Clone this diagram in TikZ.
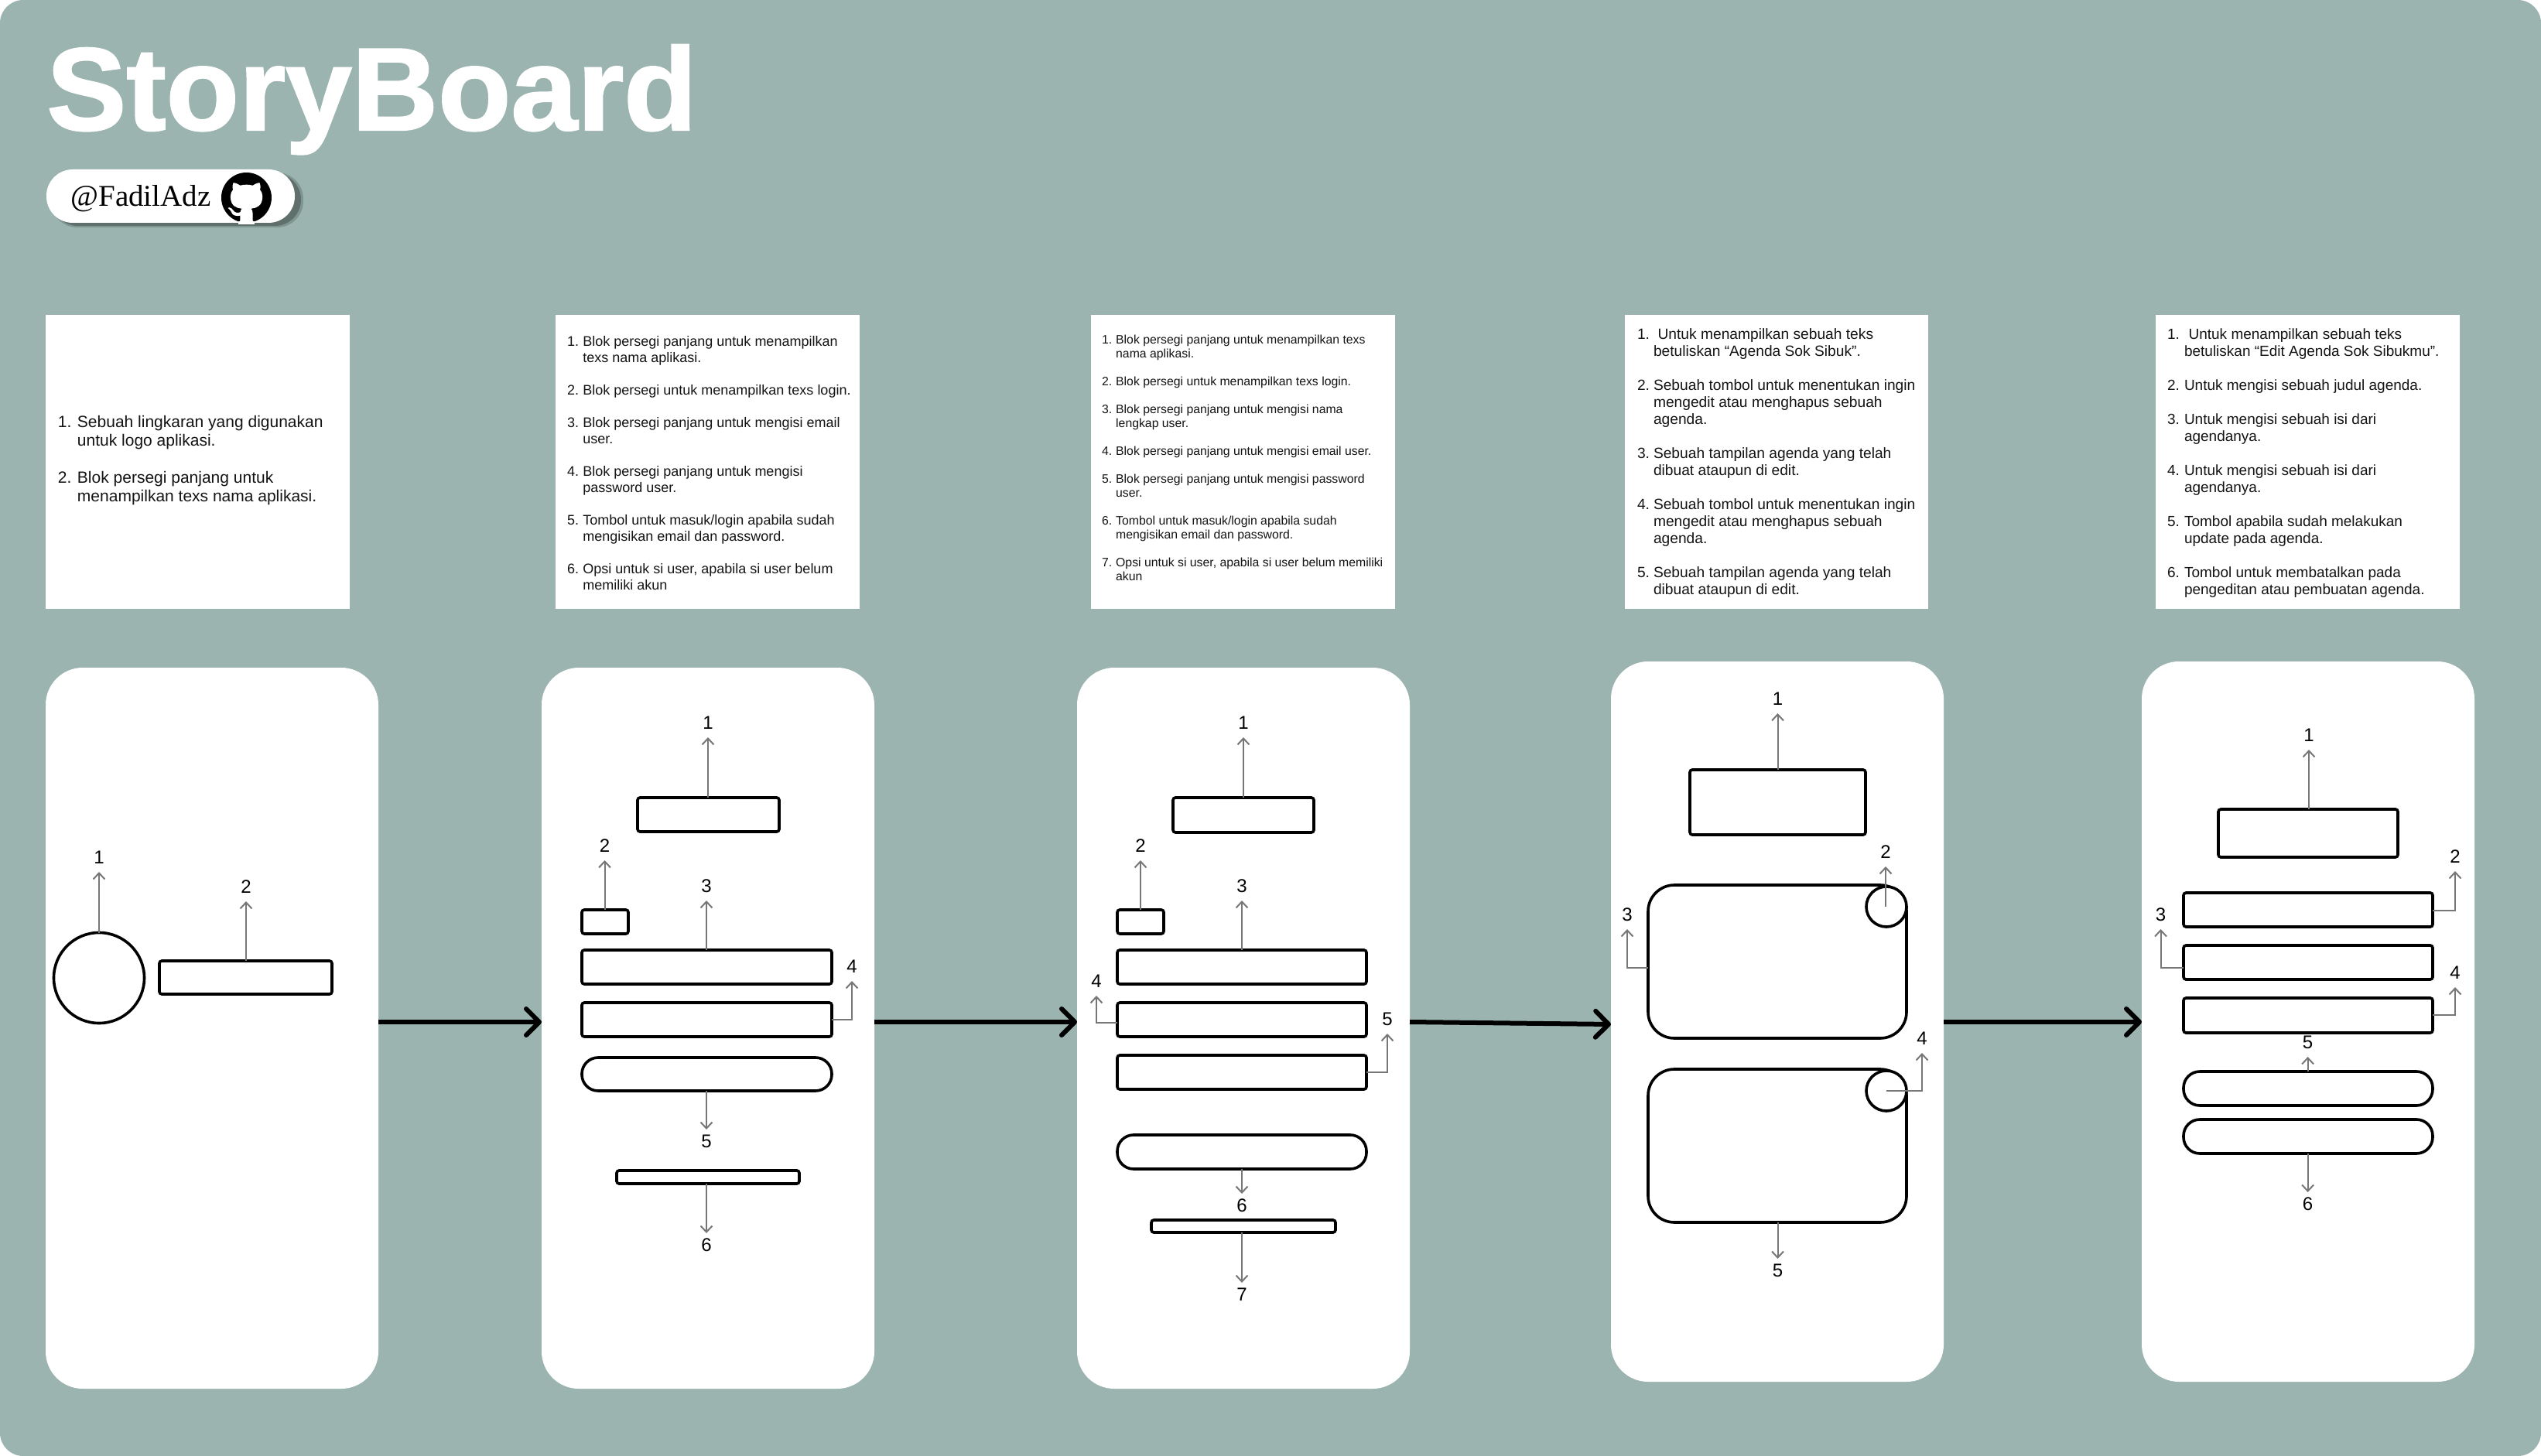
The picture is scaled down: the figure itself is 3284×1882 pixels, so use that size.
\documentclass[tikz,border=0pt]{standalone}
\usepackage{fontspec}
\setmainfont{Liberation Sans}
\newfontfamily\handlefont{Liberation Serif}
\newfontfamily\titlefont{Liberation Sans}[BoldFeatures={FakeBold=1.5,FakeStretch=1.015}]
\usetikzlibrary{arrows.meta}
\definecolor{canvas}{HTML}{9BB4AF}
\definecolor{leadgray}{HTML}{777777}
\definecolor{shadowc}{HTML}{5F706C}
\newlength{\hi}
\newcommand{\hn}[2]{\makebox[\hi][l]{#1}#2}
\newcommand{\hc}[1]{\hspace*{\hi}#1}
\newcommand{\bl}{\\\mbox{}\\}
\newcommand{\bx}[6][plainbox]{%
  \pgfmathsetmacro\cxv{(#3+#5)/2}\pgfmathsetmacro\cyv{(#4+#6)/2}%
  \pgfmathsetmacro\wv{(#5-#3)*0.5}\pgfmathsetmacro\hv{(#6-#4)*0.5}%
  \node[#1,minimum width=\wv pt,minimum height=\hv pt] (#2) at (\cxv,\cyv) {};}
\newcommand{\num}[4]{\node[numlab] (#1) at (#2,#3) {#4};}
\tikzset{
  plainbox/.style={draw=black,fill=white,line width=1.8pt,inner sep=0,outer sep=0,rounded corners=1.6pt},
  pillbox/.style={plainbox,rounded corners=10.5pt},
  agendabox/.style={plainbox,rounded corners=17pt},
  card/.style={fill=white,inner sep=0,outer sep=0,rounded corners=24pt},
  panel/.style={fill=white,inner sep=0,outer sep=0},
  dot/.style={draw=black,fill=white,line width=1.8pt,circle,inner sep=0,outer sep=0},
  numlab/.style={font=\fontsize{12}{14}\selectfont,inner sep=0,outer sep=0,minimum height=17pt,minimum width=8pt,text depth=1.5pt},
  lead/.style={draw=leadgray,line width=1pt,-{Straight Barb[length=4pt,width=7.5pt]}},
  flow/.style={draw=black,line width=3pt,-{Straight Barb[length=8.5pt,width=17pt,round]}},
  listtext/.style={anchor=west,align=left,inner sep=0,outer sep=0,text=black!92},
}
\begin{document}
\begin{tikzpicture}[x=0.5pt,y=-0.5pt]
\useasboundingbox (0,0) rectangle (3284,1882);
\fill[white] (0,0) rectangle (3284,1882);
\fill[canvas,rounded corners=15pt] (0,0) rectangle (3284,1882);

% header
\node[anchor=base west,inner sep=0,text=white,font=\fontsize{76}{80}\titlefont\bfseries] (title) at (60,168) {StoryBoard};
\fill[shadowc,opacity=.45,rounded corners=17pt] (66,223) rectangle (392,294);
\fill[shadowc,rounded corners=17pt] (67,224) rectangle (389,292);
\bx[card,rounded corners=17pt]{handlepill}{60}{219}{381}{288}
\node[anchor=base west,inner sep=0,font=\fontsize{19.5}{22}\selectfont\handlefont] (handle) at (91,267) {@FadilAdz};
\begin{scope}[shift={(286,223)},x=2.03pt,y=-2.03pt]
\clip (-1,-1) rectangle (17,16.4);
\fill[black] (8,8) circle[radius=8];
\fill[white] (5.47,16.5) -- (5.47,15.59)
 .. controls (5.87,15.66) and (6.02,15.42) .. (6.02,15.21)
 .. controls (6.02,15.02) and (6.01,14.39) .. (6.01,13.72)
 .. controls (4,14.09) and (3.48,13.23) .. (3.32,12.78)
 .. controls (3.23,12.55) and (2.84,11.84) .. (2.5,11.65)
 .. controls (2.22,11.5) and (1.82,11.13) .. (2.49,11.12)
 .. controls (3.12,11.11) and (3.57,11.7) .. (3.72,11.94)
 .. controls (4.44,13.15) and (5.59,12.81) .. (6.05,12.6)
 .. controls (6.12,12.08) and (6.33,11.73) .. (6.56,11.53)
 .. controls (4.78,11.33) and (2.92,10.64) .. (2.92,7.58)
 .. controls (2.92,6.71) and (3.23,5.99) .. (3.74,5.43)
 .. controls (3.66,5.23) and (3.38,4.41) .. (3.82,3.31)
 .. controls (3.82,3.31) and (4.49,3.1) .. (6.02,4.13)
 .. controls (6.66,3.95) and (7.34,3.86) .. (8.02,3.86)
 .. controls (8.7,3.86) and (9.38,3.95) .. (10.02,4.13)
 .. controls (11.55,3.09) and (12.22,3.31) .. (12.22,3.31)
 .. controls (12.66,4.41) and (12.38,5.23) .. (12.3,5.43)
 .. controls (12.81,5.99) and (13.12,6.71) .. (13.12,7.58)
 .. controls (13.12,10.65) and (11.25,11.33) .. (9.47,11.53)
 .. controls (9.76,11.78) and (10.01,12.26) .. (10.01,13.01)
 .. controls (10.01,14.08) and (10,14.94) .. (10,15.21)
 .. controls (10,15.42) and (10.15,15.67) .. (10.55,15.59)
 -- (10.55,16.5) -- cycle;
\end{scope}

% text panels
\bx[panel]{p1}{59}{407}{452}{787}
\bx[panel]{p2}{718}{407}{1111}{787}
\bx[panel]{p3}{1410}{407}{1803}{787}
\bx[panel]{p4}{2100}{407}{2492}{787}
\bx[panel]{p5}{2786}{407}{3179}{787}

\global\hi=12.5pt
\node[listtext,font=\fontsize{10.5}{12}\selectfont] (t1) at (75,595) {%
\hn{1.}{Sebuah lingkaran yang digunakan}\\\hc{untuk logo aplikasi.}\bl
\hn{2.}{Blok persegi panjang untuk}\\\hc{menampilkan texs nama aplikasi.}};

\global\hi=10.2pt
\node[listtext,font=\fontsize{9.0}{10.5}\selectfont] (t2) at (733,599) {%
\hn{1.}{Blok persegi panjang untuk menampilkan}\\\hc{texs nama aplikasi.}\bl
\hn{2.}{Blok persegi untuk menampilkan texs login.}\bl
\hn{3.}{Blok persegi panjang untuk mengisi email}\\\hc{user.}\bl
\hn{4.}{Blok persegi panjang untuk mengisi}\\\hc{password user.}\bl
\hn{5.}{Tombol untuk masuk/login apabila sudah}\\\hc{mengisikan email dan password.}\bl
\hn{6.}{Opsi untuk si user, apabila si user belum}\\\hc{memiliki akun}};

\global\hi=9.1pt
\node[listtext,font=\fontsize{7.9}{9}\selectfont] (t3) at (1424,592) {%
\hn{1.}{Blok persegi panjang untuk menampilkan texs}\\\hc{nama aplikasi.}\bl
\hn{2.}{Blok persegi untuk menampilkan texs login.}\bl
\hn{3.}{Blok persegi panjang untuk mengisi nama}\\\hc{lengkap user.}\bl
\hn{4.}{Blok persegi panjang untuk mengisi email user.}\bl
\hn{5.}{Blok persegi panjang untuk mengisi password}\\\hc{user.}\bl
\hn{6.}{Tombol untuk masuk/login apabila sudah}\\\hc{mengisikan email dan password.}\bl
\hn{7.}{Opsi untuk si user, apabila si user belum memiliki}\\\hc{akun}};

\global\hi=10.5pt
\node[listtext,font=\fontsize{9.6}{11}\selectfont] (t4) at (2116,599) {%
\hn{1.}{\hspace{2.8pt}Untuk menampilkan sebuah teks}\\\hc{betuliskan “Agenda Sok Sibuk”.}\bl
\hn{2.}{Sebuah tombol untuk menentukan ingin}\\\hc{mengedit atau menghapus sebuah}\\\hc{agenda.}\bl
\hn{3.}{Sebuah tampilan agenda yang telah}\\\hc{dibuat ataupun di edit.}\bl
\hn{4.}{Sebuah tombol untuk menentukan ingin}\\\hc{mengedit atau menghapus sebuah}\\\hc{agenda.}\bl
\hn{5.}{Sebuah tampilan agenda yang telah}\\\hc{dibuat ataupun di edit.}};

\global\hi=11pt
\node[listtext,font=\fontsize{9.5}{11}\selectfont] (t5) at (2801,599) {%
\hn{1.}{\hspace{2.8pt}Untuk menampilkan sebuah teks}\\\hc{betuliskan “Edit Agenda Sok Sibukmu”.}\bl
\hn{2.}{Untuk mengisi sebuah judul agenda.}\bl
\hn{3.}{Untuk mengisi sebuah isi dari}\\\hc{agendanya.}\bl
\hn{4.}{Untuk mengisi sebuah isi dari}\\\hc{agendanya.}\bl
\hn{5.}{Tombol apabila sudah melakukan}\\\hc{update pada agenda.}\bl
\hn{6.}{Tombol untuk membatalkan pada}\\\hc{pengeditan atau pembuatan agenda.}};

% phone cards
\bx[card]{c1}{59}{863}{489}{1795}
\bx[card]{c2}{700}{863}{1130}{1795}
\bx[card]{c3}{1392}{863}{1822}{1795}
\bx[card]{c4}{2082}{855}{2512}{1786}
\bx[card]{c5}{2768}{855}{3198}{1786}

\draw[flow] (c1.east |- 0,1321) -- (c2.west |- 0,1321);
\draw[flow] (c2.east |- 0,1321) -- (c3.west |- 0,1321);
\draw[flow] (c3.east |- 0,1321) -- (c4.west |- 0,1324);
\draw[flow] (c4.east |- 0,1321) -- (c5.west |- 0,1321);

% screen 1
\node[dot,minimum size=58.5pt] (s1a) at (128,1264) {};
\bx{s1b}{206}{1242}{429}{1285}
\num{s1n1}{128}{1110}{1}
\num{s1n2}{318}{1148}{2}
\draw[lead] (s1a.north) -- (s1n1.south);
\draw[lead] (s1b.north -| s1n2) -- (s1n2.south);

% screen 2
\bx{s2a}{824}{1031}{1007}{1075}
\bx{s2b}{752}{1176}{812}{1207}
\bx{s2c}{752}{1228}{1075}{1272}
\bx{s2d}{752}{1296}{1075}{1340}
\bx[pillbox]{s2e}{752}{1367}{1075}{1410}
\bx{s2f}{797}{1513}{1033}{1530}
\num{s2n1}{915}{936}{1}
\num{s2n2}{781.5}{1095}{2}
\num{s2n3}{913}{1147}{3}
\num{s2n4}{1101}{1251}{4}
\num{s2n5}{913}{1477}{5}
\num{s2n6}{913}{1611}{6}
\draw[lead] (s2a.north -| s2n1) -- (s2n1.south);
\draw[lead] (s2b.north -| s2n2) -- (s2n2.south);
\draw[lead] (s2c.north -| s2n3) -- (s2n3.south);
\draw[lead] (s2d.east |- 0,1318) -| (s2n4.south);
\draw[lead] (s2e.south -| s2n5) -- (s2n5.north);
\draw[lead] (s2f.south -| s2n6) -- (s2n6.north);

% screen 3
\bx{s3a}{1516}{1031}{1698}{1076}
\bx{s3b}{1444}{1176}{1504}{1207}
\bx{s3c}{1444}{1228}{1766}{1272}
\bx{s3d}{1444}{1296}{1766}{1340}
\bx{s3e}{1444}{1364}{1766}{1408}
\bx[pillbox]{s3f}{1444}{1467}{1766}{1511}
\bx{s3g}{1488}{1577}{1726}{1593}
\num{s3n1}{1607}{936}{1}
\num{s3n2}{1474}{1095}{2}
\num{s3n3}{1605}{1147}{3}
\num{s3n4}{1417}{1270}{4}
\num{s3n5}{1793}{1319}{5}
\num{s3n6}{1605}{1560}{6}
\num{s3n7}{1605}{1675}{7}
\draw[lead] (s3a.north -| s3n1) -- (s3n1.south);
\draw[lead] (s3b.north -| s3n2) -- (s3n2.south);
\draw[lead] (s3c.north -| s3n3) -- (s3n3.south);
\draw[lead] (s3d.west |- 0,1322) -| (s3n4.south);
\draw[lead] (s3e.east |- 0,1386) -| (s3n5.south);
\draw[lead] (s3f.south -| s3n6) -- (s3n6.north);
\draw[lead] (s3g.south -| s3n7) -- (s3n7.north);

% screen 4
\bx{s4a}{2184}{995}{2411}{1079}
\bx[agendabox]{s4b}{2130}{1144}{2464}{1342}
\bx[agendabox]{s4c}{2130}{1382}{2464}{1580}
\node[dot,minimum size=26pt] (s4d) at (2438,1172) {};
\node[dot,minimum size=26pt] (s4e) at (2438,1410) {};
\num{s4n1}{2297.5}{905}{1}
\num{s4n2}{2437}{1103}{2}
\num{s4n3}{2103}{1184}{3}
\num{s4n4}{2484}{1344}{4}
\num{s4n5}{2297.5}{1644}{5}
\draw[lead] (s4a.north -| s4n1) -- (s4n1.south);
\draw[lead] (s4d.center -| s4n2) -- (s4n2.south);
\draw[lead] (s4b.west |- 0,1251) -| (s4n3.south);
\draw[lead] (s4e.center) -| (s4n4.south);
\draw[lead] (s4c.south -| s4n5) -- (s4n5.north);

% screen 5
\bx{s5a}{2867}{1046}{3099}{1108}
\bx{s5b}{2822}{1154}{3144}{1198}
\bx{s5c}{2822}{1222}{3144}{1266}
\bx{s5d}{2822}{1290}{3144}{1335}
\bx[pillbox]{s5e}{2822}{1385}{3144}{1429}
\bx[pillbox]{s5f}{2822}{1447}{3144}{1491}
\num{s5n1}{2984}{952}{1}
\num{s5n2}{3173}{1109}{2}
\num{s5n3}{2792.5}{1184}{3}
\num{s5n4}{3173}{1259}{4}
\num{s5n5}{2982.6}{1349}{5}
\num{s5n6}{2982.6}{1558}{6}
\draw[lead] (s5a.north -| s5n1) -- (s5n1.south);
\draw[lead] (s5b.east |- 0,1176.5) -| (s5n2.south);
\draw[lead] (s5c.west |- 0,1251) -| (s5n3.south);
\draw[lead] (s5d.east |- 0,1312) -| (s5n4.south);
\draw[lead] (s5e.north -| s5n5) -- (s5n5.south);
\draw[lead] (s5f.south -| s5n6) -- (s5n6.north);
\end{tikzpicture}
\end{document}
